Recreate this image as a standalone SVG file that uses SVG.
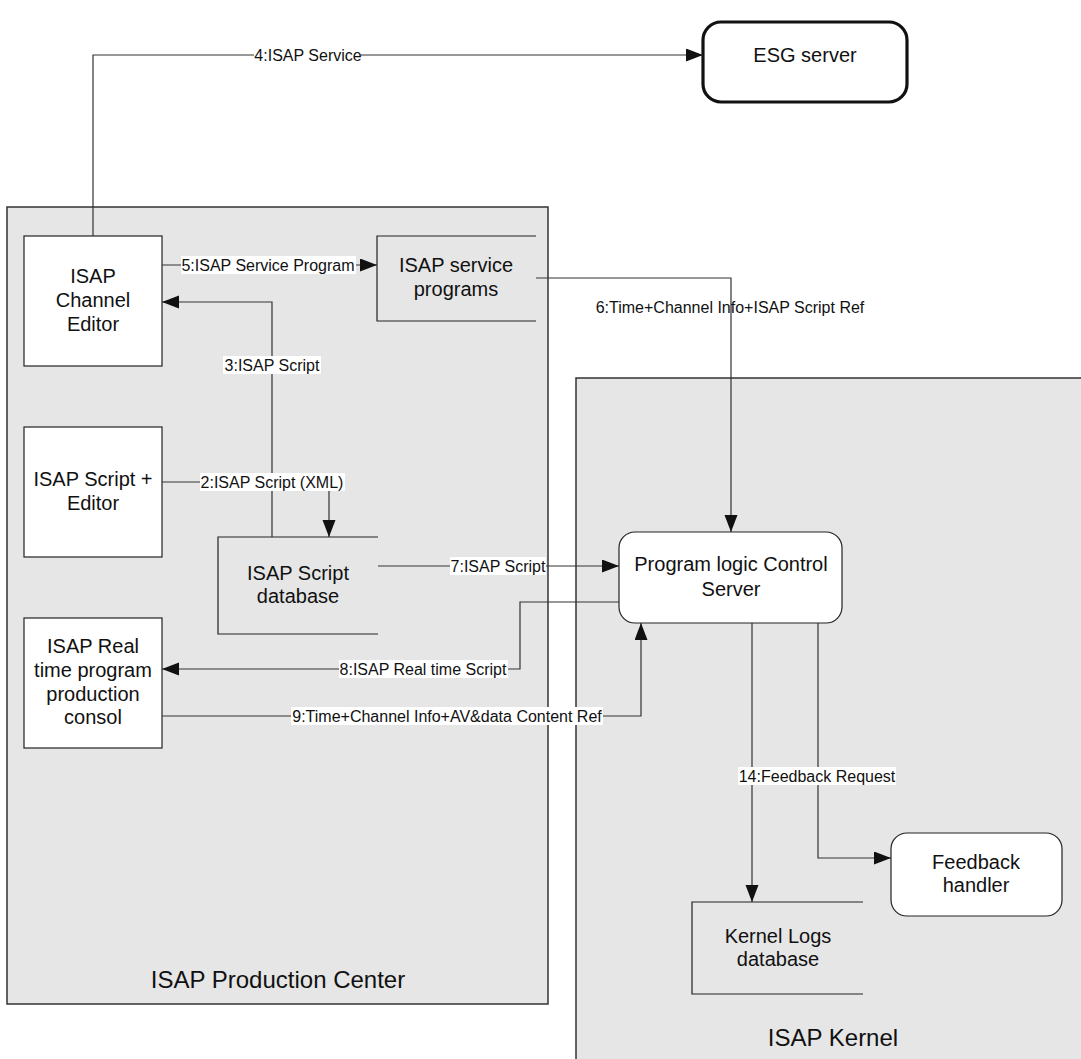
<svg xmlns="http://www.w3.org/2000/svg" width="1081" height="1059" viewBox="0 0 1081 1059">
  <style>
    .container { fill: #e6e6e6; stroke: #333333; stroke-width: 1.5; }
    .box { fill: #ffffff; stroke: #222222; stroke-width: 1.2; }
    .store { fill: none; stroke: #222222; stroke-width: 1.2; }
    .wire { fill: none; stroke: #333333; stroke-width: 1.2; }
    .node-text { font-family: "Liberation Sans", Arial, sans-serif; font-size: 20px; fill: #111111; text-anchor: middle; }
    .area-text { font-family: "Liberation Sans", Arial, sans-serif; font-size: 24px; fill: #111111; text-anchor: middle; }
    .edge-text { font-family: "Liberation Sans", Arial, sans-serif; font-size: 16px; fill: #111111; text-anchor: middle; }
    .edge-bg { fill: #ffffff; }
  </style>
  <defs>
    <marker id="arrow" markerUnits="userSpaceOnUse" markerWidth="18" markerHeight="14" refX="17" refY="6.5" orient="auto">
      <path d="M0,0 L17,6.5 L0,13 z" fill="#111111"/>
    </marker>
  </defs>

  <rect width="1081" height="1059" fill="#ffffff"/>

  <!-- Containers -->
  <g id="production-center">
    <rect class="container" x="7" y="207" width="541" height="797"/>
    <text class="area-text" x="278" y="988">ISAP Production Center</text>
  </g>
  <g id="isap-kernel">
    <rect class="container" x="576" y="378" width="520" height="700"/>
    <text class="area-text" x="833" y="1046">ISAP Kernel</text>
  </g>

  <!-- Nodes -->
  <g id="esg-server">
    <rect x="703" y="22" width="204" height="80" rx="18" ry="18" fill="#ffffff" stroke="#111111" stroke-width="3.2"/>
    <text class="node-text" x="805" y="62">ESG server</text>
  </g>

  <g id="channel-editor">
    <rect class="box" x="24" y="236" width="138" height="130"/>
    <text class="node-text" x="93" y="283">ISAP</text>
    <text class="node-text" x="93" y="307">Channel</text>
    <text class="node-text" x="93" y="331">Editor</text>
  </g>

  <g id="service-programs">
    <path class="store" d="M536,236 H377 V321 H536"/>
    <text class="node-text" x="456" y="272">ISAP service</text>
    <text class="node-text" x="456" y="296">programs</text>
  </g>

  <g id="script-editor">
    <rect class="box" x="24" y="427" width="138" height="130"/>
    <text class="node-text" x="93" y="486">ISAP Script +</text>
    <text class="node-text" x="93" y="510">Editor</text>
  </g>

  <g id="script-database">
    <path class="store" d="M378,537 H218 V634 H378"/>
    <text class="node-text" x="298" y="580">ISAP Script</text>
    <text class="node-text" x="298" y="603">database</text>
  </g>

  <g id="realtime-console">
    <rect class="box" x="24" y="618" width="138" height="130"/>
    <text class="node-text" x="93" y="653">ISAP Real</text>
    <text class="node-text" x="93" y="677">time program</text>
    <text class="node-text" x="93" y="701">production</text>
    <text class="node-text" x="93" y="724">consol</text>
  </g>

  <g id="control-server">
    <rect class="box" x="619" y="532" width="223" height="91" rx="16" ry="16"/>
    <text class="node-text" x="731" y="571">Program logic Control</text>
    <text class="node-text" x="731" y="596">Server</text>
  </g>

  <g id="feedback-handler">
    <rect class="box" x="891" y="833" width="171" height="83" rx="16" ry="16"/>
    <text class="node-text" x="976" y="869">Feedback</text>
    <text class="node-text" x="976" y="892">handler</text>
  </g>

  <g id="kernel-logs">
    <path class="store" d="M863,902 H692 V994 H863"/>
    <text class="node-text" x="778" y="943">Kernel Logs</text>
    <text class="node-text" x="778" y="966">database</text>
  </g>

  <!-- Connectors -->
  <g id="connectors">
    <!-- 4: editor to ESG server -->
    <path class="wire" d="M93,236 V55 H703" marker-end="url(#arrow)"/>
    <rect class="edge-bg" x="254" y="46" width="107" height="18"/>
    <text class="edge-text" x="308" y="61">4:ISAP Service</text>

    <!-- 5: editor to service programs -->
    <path class="wire" d="M162,265 H377" marker-end="url(#arrow)"/>
    <rect class="edge-bg" x="181" y="256" width="175" height="18"/>
    <text class="edge-text" x="268" y="271">5:ISAP Service Program</text>

    <!-- 3: script database back to editor -->
    <path class="wire" d="M272,537 V302 H162" marker-end="url(#arrow)"/>
    <rect class="edge-bg" x="223" y="356" width="98" height="18"/>
    <text class="edge-text" x="272" y="371">3:ISAP Script</text>

    <!-- 2: script editor into database -->
    <path class="wire" d="M162,482 H329 V537" marker-end="url(#arrow)"/>
    <rect class="edge-bg" x="200" y="473" width="145" height="18"/>
    <text class="edge-text" x="272" y="488">2:ISAP Script (XML)</text>

    <!-- 6: service programs to control server -->
    <path class="wire" d="M536,278 H731 V532" marker-end="url(#arrow)"/>
    <text class="edge-text" x="730" y="313">6:Time+Channel Info+ISAP Script Ref</text>

    <!-- 7: database to control server -->
    <path class="wire" d="M378,566 H619" marker-end="url(#arrow)"/>
    <rect class="edge-bg" x="450" y="557" width="96" height="18"/>
    <text class="edge-text" x="498" y="572">7:ISAP Script</text>

    <!-- 8: control server back to console -->
    <path class="wire" d="M619,602 H520 V669 H162" marker-end="url(#arrow)"/>
    <rect class="edge-bg" x="339" y="660" width="169" height="18"/>
    <text class="edge-text" x="423" y="675">8:ISAP Real time Script</text>

    <!-- 9: console to control server -->
    <path class="wire" d="M162,716 H641 V623" marker-end="url(#arrow)"/>
    <rect class="edge-bg" x="291" y="707" width="312" height="18"/>
    <text class="edge-text" x="447" y="722">9:Time+Channel Info+AV&amp;data Content Ref</text>

    <!-- control server to kernel logs -->
    <path class="wire" d="M752,623 V902" marker-end="url(#arrow)"/>

    <!-- 14: control server to feedback handler -->
    <path class="wire" d="M818,623 V858 H891" marker-end="url(#arrow)"/>
    <rect class="edge-bg" x="738" y="767" width="158" height="18"/>
    <text class="edge-text" x="817" y="782">14:Feedback Request</text>
  </g>
</svg>
